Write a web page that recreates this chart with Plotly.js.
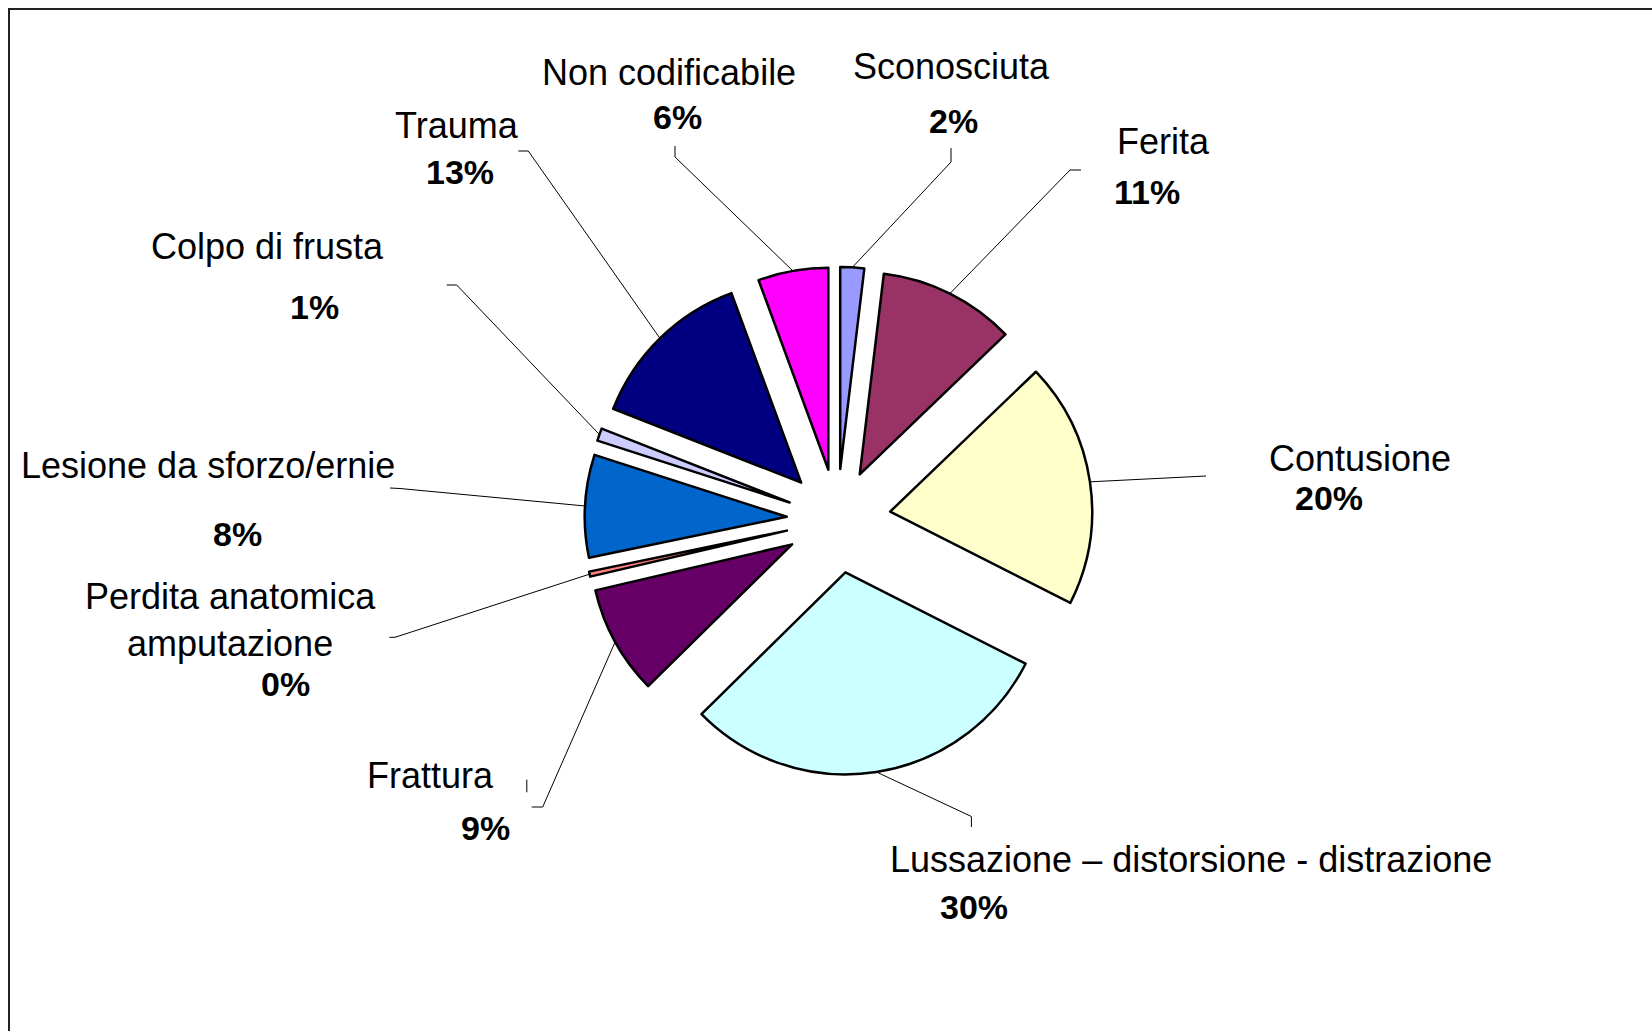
<!DOCTYPE html>
<html>
<head>
<meta charset="utf-8">
<script src="https://cdn.plot.ly/plotly-3.0.1.min.js"></script>
<style>html,body{margin:0;padding:0;background:#fff;}#chart{width:1652px;height:1031px;}</style>
</head>
<body>
<div id="chart"></div>
<script>
// ---- DATA ----
const categories = ['Sconosciuta', 'Ferita', 'Contusione', 'Lussazione – distorsione - distrazione', 'Frattura',
  'Perdita anatomica<br>amputazione', 'Lesione da sforzo/ernie', 'Colpo di frusta', 'Trauma', 'Non codificabile'];
const values = [1.9, 10.9, 19.6, 30.1, 8.7, 0.4, 8.2, 1.0, 13.4, 5.6];
const colors = ['#9999FF', '#993366', '#FFFFCC', '#CCFFFF', '#660066', '#FF8080', '#0066CC', '#CCCCFF', '#000080', '#FF00FF'];
const pulls = [0.25, 0.25, 0.265, 0.265, 0.255, 0.255, 0.25, 0.25, 0.255, 0.25];

// ---- LAYOUT (pixel positions of the page) ----
const W = 1652, H = 1031;
const PIE_CX = 837.2, PIE_CY = 519.5, PIE_R = 202;
const FONT = 'Liberation Sans, Arial, sans-serif';
const FS_NAME = 36;
const FS_PCT = 34;
const nameXY = [[951.4, 66], [1163, 141], [1360, 458.5], [1191, 859.7], [430.5, 775.2],
  [230.5, 620], [207.5, 465.5], [267.5, 246], [456.5, 125], [669, 72.5]];
const pctXY = [[953.5, 121], [1146.5, 192], [1329.3, 498.2], [973.5, 907], [485.7, 827.5],
  [285.5, 684], [237.3, 534], [314, 306.6], [460.2, 172], [677.5, 117]];
const leaderPts = [
  [[951, 148], [951, 162]],
  [[1081, 170], [1070, 170]],
  [[1206, 476]],
  [[971.4, 827], [971.4, 816.5]],
  [[531.7, 807], [542.7, 807]],
  [[389.3, 637.3], [395, 637.3]],
  [[390, 488], [400, 488.5]],
  [[446.7, 285], [456.7, 285]],
  [[518.3, 151], [528.3, 151]],
  [[675, 146], [675, 157]]
];
const extraTicks = [[[526.8, 779.6], [526.8, 792.3]]];

// pie domain from desired centre / radius
const maxPull = Math.max(...pulls);
const half = PIE_R * (1 + maxPull);
const domX = [(PIE_CX - half) / W, (PIE_CX + half) / W];
const domY0 = 1 - (PIE_CY + half) / H;
const domY = [domY0, domY0 + 2 * half / H];

const total = values.reduce((a, b) => a + b, 0);
const pctText = values.map(v => Math.round(v / total * 100) + '%');

// leader lines: label elbow -> middle of slice arc
const lx = [], ly = [];
let cum = 0;
values.forEach((v, i) => {
  const mid = (cum + v / 2) / total * 2 * Math.PI;
  cum += v;
  const d = (1 + pulls[i]) * PIE_R;
  const ax = PIE_CX + d * Math.sin(mid);
  const ay = PIE_CY - d * Math.cos(mid);
  leaderPts[i].forEach(p => { lx.push(p[0]); ly.push(p[1]); });
  lx.push(ax); ly.push(ay);
  lx.push(null); ly.push(null);
});
extraTicks.forEach(seg => { seg.forEach(p => { lx.push(p[0]); ly.push(p[1]); }); lx.push(null); ly.push(null); });

const pieTrace = {
  type: 'pie',
  labels: categories,
  values: values,
  sort: false,
  direction: 'clockwise',
  rotation: 0,
  pull: pulls,
  marker: { colors: colors, line: { color: '#000000', width: 2.5 } },
  textinfo: 'none',
  hoverinfo: 'label+percent',
  showlegend: false,
  domain: { x: domX, y: domY }
};

const lineTrace = {
  type: 'scatter', mode: 'lines', x: lx, y: ly,
  line: { color: '#000000', width: 1 },
  hoverinfo: 'skip', showlegend: false, connectgaps: false
};

const annotations = [];
categories.forEach((c, i) => {
  annotations.push({
    x: nameXY[i][0], y: nameXY[i][1], xref: 'x', yref: 'y', text: c, showarrow: false,
    xanchor: 'center', yanchor: 'middle', align: 'center',
    font: { family: FONT, size: FS_NAME, color: '#000000' }
  });
  annotations.push({
    x: pctXY[i][0], y: pctXY[i][1], xref: 'x', yref: 'y', text: '<b>' + pctText[i] + '</b>', showarrow: false,
    xanchor: 'center', yanchor: 'middle', align: 'center',
    font: { family: FONT, size: FS_PCT, color: '#000000' }
  });
});

const layout = {
  width: W, height: H, autosize: false,
  margin: { l: 0, r: 0, t: 0, b: 0, pad: 0 },
  paper_bgcolor: '#ffffff', plot_bgcolor: '#ffffff',
  xaxis: { range: [0, W], visible: false, fixedrange: true },
  yaxis: { range: [H, 0], visible: false, fixedrange: true },
  showlegend: false,
  annotations: annotations,
  shapes: [{ type: 'rect', xref: 'x', yref: 'y', x0: 9, y0: 9, x1: W + 50, y1: H + 50,
    line: { color: '#222222', width: 2 }, fillcolor: 'rgba(0,0,0,0)' }]
};

Plotly.newPlot('chart', [lineTrace, pieTrace], layout, { staticPlot: true, displayModeBar: false });
</script>
</body>
</html>
